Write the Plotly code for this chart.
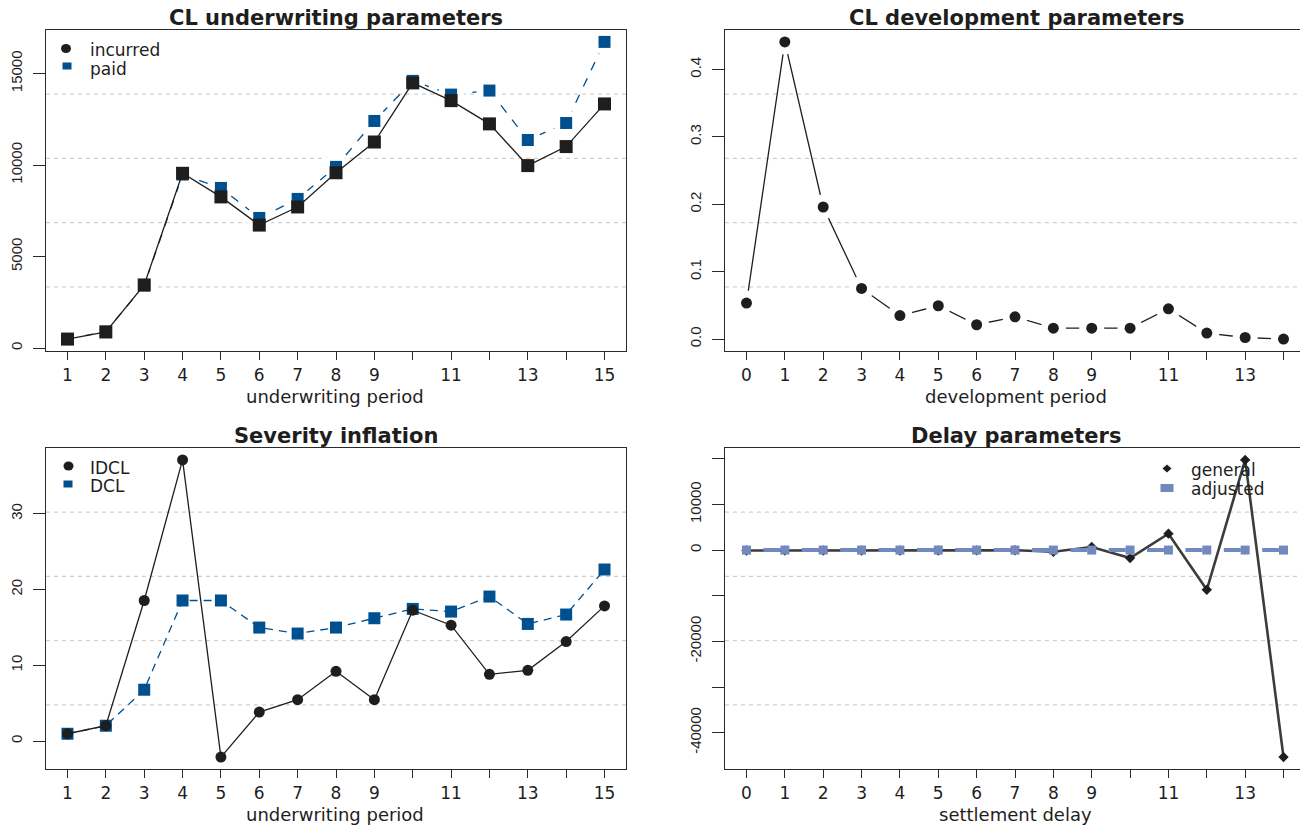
import plotly.graph_objects as go

# ---------------------------------------------------------------- data
uw_period = [1, 2, 3, 4, 5, 6, 7, 8, 9, 10, 11, 12, 13, 14, 15]
dev_period = [0, 1, 2, 3, 4, 5, 6, 7, 8, 9, 10, 11, 12, 13, 14]

uw_tick_text = ["1", "2", "3", "4", "5", "6", "7", "8", "9", "", "11", "", "13", "", "15"]
dev_tick_text = ["0", "1", "2", "3", "4", "5", "6", "7", "8", "9", "", "11", "", "13", ""]

incurred = [490, 880, 3450, 9550, 8260, 6720, 7710, 9580, 11260, 14490,
            13520, 12250, 9970, 11010, 13340]
paid = [500, 900, 3420, 9480, 8750, 7110, 8150, 9900, 12410, 14600,
        13850, 14070, 11370, 12300, 16730]

dev_params = [0.0535, 0.441, 0.196, 0.0752, 0.035, 0.0495, 0.0213, 0.033,
              0.0163, 0.0163, 0.0163, 0.045, 0.0089, 0.0024, 0.0]

idcl = [0.97, 2.03, 18.55, 37.1, -2.11, 3.83, 5.46, 9.21, 5.46, 17.27,
        15.29, 8.81, 9.34, 13.13, 17.84]
dcl = [0.97, 2.03, 6.78, 18.55, 18.55, 14.98, 14.19, 14.98, 16.21, 17.44,
       17.09, 19.07, 15.46, 16.70, 22.64]

delay_general = [-100, -120, -110, -100, -90, -80, -60, -40, -370, 660,
                 -1760, 3590, -8700, 19750, -45350]
delay_adjusted = [0, 0, 0, 0, 0, 0, 0, 0, 0, 0, 0, 0, 0, 0, 0]

cl_y_ticks = [0, 5000, 10000, 15000]
dev_y_ticks = [0.0, 0.1, 0.2, 0.3, 0.4]
dev_y_text = ["0.0", "0.1", "0.2", "0.3", "0.4"]
infl_y_ticks = [0, 10, 20, 30]
delay_y_ticks = [-40000, -30000, -20000, -10000, 0, 10000, 20000]
delay_y_text = ["-40000", "", "-20000", "", "0", "10000", ""]

# ---------------------------------------------------------------- layout constants
W, H = 1300, 827
BLACK = "#1e1e1e"
BLUE = "#004f8f"
LAVENDER = "#7189bf"
GREY_LINE = "#3c3c3c"
AXIS = "#2a2a2a"
GRID = "#cfcfcf"
FONT = "DejaVu Sans"
YFONT = "Liberation Sans"

BOX_W = 580  # full width of every plotting box in px
# left, top, bottom in px of each panel box
BOXES = {1: (46, 30, 351), 2: (725, 30, 351), 3: (46, 448, 769), 4: (725, 448, 769)}


def padded(vals, frac=0.04):
    lo, hi = min(vals), max(vals)
    d = hi - lo
    return [lo - frac * d, hi + frac * d]


def px_x(p):
    return p / W


def px_y(p):
    return 1 - p / H


fig = go.Figure()

# ---------------------------------------------------------------- traces
# Panel 1: CL underwriting parameters
fig.add_trace(go.Scatter(x=uw_period, y=paid, mode="lines", xaxis="x", yaxis="y",
                         line=dict(color=BLUE, width=1.3, dash="9px,9px"),
                         hoverinfo="skip", showlegend=False))
fig.add_trace(go.Scatter(x=uw_period, y=paid, mode="markers", xaxis="x", yaxis="y",
                         marker=dict(color="white", size=26, symbol="circle"),
                         hoverinfo="skip", showlegend=False))
fig.add_trace(go.Scatter(x=uw_period, y=paid, mode="markers", xaxis="x", yaxis="y",
                         marker=dict(color=BLUE, size=12, symbol="square"),
                         name="paid", showlegend=False))
fig.add_trace(go.Scatter(x=uw_period, y=incurred, mode="lines+markers", xaxis="x", yaxis="y",
                         line=dict(color=BLACK, width=1.3),
                         marker=dict(color=BLACK, size=13, symbol="square"),
                         name="incurred", showlegend=False))

# Panel 2: CL development parameters
fig.add_trace(go.Scatter(x=dev_period, y=dev_params, mode="lines", xaxis="x2", yaxis="y2",
                         line=dict(color=BLACK, width=1.3),
                         hoverinfo="skip", showlegend=False))
fig.add_trace(go.Scatter(x=dev_period, y=dev_params, mode="markers", xaxis="x2", yaxis="y2",
                         marker=dict(color="white", size=25, symbol="circle"),
                         hoverinfo="skip", showlegend=False))
fig.add_trace(go.Scatter(x=dev_period, y=dev_params, mode="markers", xaxis="x2", yaxis="y2",
                         marker=dict(color=BLACK, size=11, symbol="circle"),
                         showlegend=False))

# Panel 3: Severity inflation
fig.add_trace(go.Scatter(x=uw_period, y=dcl, mode="lines+markers", xaxis="x3", yaxis="y3",
                         line=dict(color=BLUE, width=1.3, dash="8px,6px"),
                         marker=dict(color=BLUE, size=12, symbol="square"),
                         name="DCL", showlegend=False))
fig.add_trace(go.Scatter(x=uw_period, y=idcl, mode="lines+markers", xaxis="x3", yaxis="y3",
                         line=dict(color=BLACK, width=1.3),
                         marker=dict(color=BLACK, size=11, symbol="circle"),
                         name="IDCL", showlegend=False))

# Panel 4: Delay parameters
dev_range = padded(dev_period)
ppu = BOX_W / (dev_range[1] - dev_range[0])  # px per unit on the delay axis
gap_a, dash_len = 17.0, 17.0
dash_pattern = f"0px,{gap_a}px,{dash_len}px,{ppu - gap_a - dash_len:.2f}px"
fig.add_trace(go.Scatter(x=dev_period, y=delay_general, mode="lines+markers", xaxis="x4", yaxis="y4",
                         line=dict(color=GREY_LINE, width=2.6),
                         marker=dict(color=BLACK, size=8, symbol="diamond"),
                         name="general", showlegend=False))
fig.add_trace(go.Scatter(x=dev_period, y=delay_adjusted, mode="lines+markers", xaxis="x4", yaxis="y4",
                         line=dict(color=LAVENDER, width=4, dash=dash_pattern),
                         marker=dict(color=LAVENDER, size=9, symbol="square"),
                         name="adjusted", showlegend=False))

# ---------------------------------------------------------------- axes
def x_axis(panel, rng, ticktext, tickvals):
    left, top, bottom = BOXES[panel]
    right = min(left + BOX_W, W)
    full = rng[1] - rng[0]
    vis_hi = rng[0] + full * (right - left) / BOX_W
    return dict(domain=[px_x(left), px_x(right)], range=[rng[0], vis_hi],
                anchor="y" + ("" if panel == 1 else str(panel)),
                showline=True, linecolor=AXIS, linewidth=1.2, mirror=True,
                ticks="outside", ticklen=8, tickwidth=1.2, tickcolor=AXIS,
                tickmode="array", tickvals=tickvals, ticktext=ticktext,
                tickfont=dict(family=FONT, size=17, color=BLACK),
                ticklabelstandoff=0,
                showgrid=False, zeroline=False, fixedrange=True)


def y_axis(panel, rng, tickvals, ticktext, mirror):
    left, top, bottom = BOXES[panel]
    return dict(domain=[px_y(bottom), px_y(top)], range=rng,
                anchor="x" + ("" if panel == 1 else str(panel)),
                showline=True, linecolor=AXIS, linewidth=1.2, mirror=mirror,
                ticks="outside", ticklen=12, tickwidth=1.2, tickcolor=AXIS,
                tickmode="array", tickvals=tickvals, ticktext=ticktext,
                tickangle=-90, tickfont=dict(family=YFONT, size=15, color=BLACK),
                ticklabelstandoff=5,
                showgrid=False, zeroline=False, fixedrange=True)


uw_range = padded(uw_period)
fig.update_layout(
    xaxis=x_axis(1, uw_range, uw_tick_text, uw_period),
    yaxis=y_axis(1, padded(incurred + paid), cl_y_ticks, [str(v) for v in cl_y_ticks], True),
    xaxis2=x_axis(2, dev_range, dev_tick_text, dev_period),
    yaxis2=y_axis(2, padded(dev_params), dev_y_ticks, dev_y_text, False),
    xaxis3=x_axis(3, uw_range, uw_tick_text, uw_period),
    yaxis3=y_axis(3, padded(idcl + dcl), infl_y_ticks, [str(v) for v in infl_y_ticks], True),
    xaxis4=x_axis(4, dev_range, dev_tick_text, dev_period),
    yaxis4=y_axis(4, padded(delay_general + delay_adjusted), delay_y_ticks, delay_y_text, False),
)

# ---------------------------------------------------------------- grid lines (5 bands per panel)
shapes = []
for i in ["", "2", "3", "4"]:
    for frac in [0.2, 0.4, 0.6, 0.8]:
        shapes.append(dict(type="line", xref=f"x{i} domain", yref=f"y{i} domain",
                           x0=0, x1=1, y0=frac, y1=frac, layer="below",
                           line=dict(color=GRID, width=1.2, dash="4px,4px")))

# ---------------------------------------------------------------- legends
def sym(kind, cx, cy, w, h, color):
    base = dict(xref="paper", yref="paper", xsizemode="pixel", ysizemode="pixel",
                xanchor=px_x(cx), yanchor=px_y(cy), fillcolor=color,
                line=dict(width=0), layer="above")
    if kind == "circle":
        base.update(type="circle", x0=-w / 2, x1=w / 2, y0=-h / 2, y1=h / 2)
    elif kind == "square":
        base.update(type="rect", x0=-w / 2, x1=w / 2, y0=-h / 2, y1=h / 2)
    else:
        base.update(type="path",
                    path=f"M0,{h/2} L{w/2},0 L0,{-h/2} L{-w/2},0 Z")
    return base


shapes += [
    sym("circle", 66, 48.5, 10, 9, BLACK),
    sym("square", 67, 66, 9, 7, BLUE),
    sym("circle", 68.5, 466, 10, 9, BLACK),
    sym("square", 68, 484, 9, 7, BLUE),
    sym("diamond", 1167, 468.5, 9, 8, BLACK),
    sym("square", 1167, 488, 13, 8, LAVENDER),
]

annotations = []


def text(s, cx, cy, size, anchor="center", bold=False):
    annotations.append(dict(text=f"<b>{s}</b>" if bold else s, xref="paper", yref="paper",
                            x=px_x(cx), y=px_y(cy), xanchor=anchor, yanchor="middle",
                            showarrow=False, font=dict(family=FONT, size=size, color=BLACK)))


# panel titles
text("CL underwriting parameters", 336, 18, 21, bold=True)
text("CL development parameters", 1016, 18, 21, bold=True)
text("Severity inflation", 336, 436, 21, bold=True)
text("Delay parameters", 1016, 436, 21, bold=True)

# axis titles
text("underwriting period", 335, 397, 18)
text("development period", 1016, 397, 18)
text("underwriting period", 335, 814, 18)
text("settlement delay", 1015, 814, 18)

# legend labels
text("incurred", 88, 50.5, 17, anchor="left")
text("paid", 88, 68.5, 17, anchor="left")
text("IDCL", 88, 468, 17, anchor="left")
text("DCL", 88, 486, 17, anchor="left")
text("general", 1189, 470, 17, anchor="left")
text("adjusted", 1189, 489, 17, anchor="left")

fig.update_layout(
    width=W, height=H,
    margin=dict(l=0, r=0, t=0, b=0),
    paper_bgcolor="white", plot_bgcolor="white",
    shapes=shapes, annotations=annotations,
    showlegend=False,
)

fig.write_html("out.html", config={"displayModeBar": False})
